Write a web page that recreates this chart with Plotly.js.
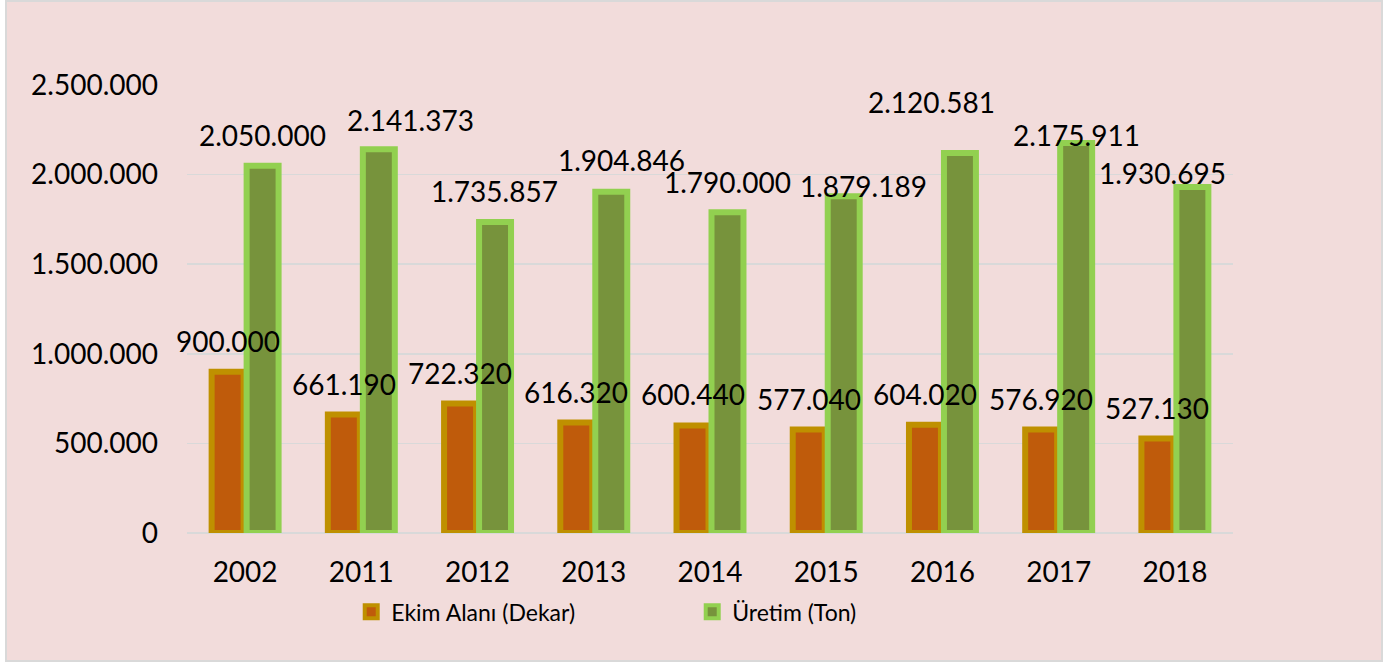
<!DOCTYPE html>
<html>
<head>
<meta charset="utf-8">
<script src="https://cdn.plot.ly/plotly-3.0.1.min.js"></script>
<style>
  html, body { margin: 0; padding: 0; background: #ffffff; }
  #frame { position: absolute; left: 5px; top: 0px; width: 1378px; height: 662px;
           border: 2px solid #D9D9D9; box-sizing: border-box; background: #F2DCDB; }
  #chart { width: 1374px; height: 658px; }
</style>
</head>
<body>
<div id="frame"><div id="chart"></div></div>
<script>
// ---- data ----
const categories = ['2002', '2011', '2012', '2013', '2014', '2015', '2016', '2017', '2018'];
const ekimAlani = [900000, 661190, 722320, 616320, 600440, 577040, 604020, 576920, 527130];
const uretim = [2050000, 2141373, 1735857, 1904846, 1790000, 1879189, 2120581, 2175911, 1930695];
const seriesNames = ['Ekim Alanı (Dekar)', 'Üretim (Ton)'];
const yTicks = [0, 500000, 1000000, 1500000, 2000000, 2500000];

// ---- label placement styling (pixel nudges, as in the original chart) ----
const ekimLabelDx = [0, 0, 0, 0, 0, 0, 0, 0, 0];
const ekimLabelDy = [31, 31, 31, 31, 31, 31, 31, 31, 31];
const uretimLabelDx = [0, 32, -1, 10, 0, 20, -28, 0, -30];
const uretimLabelDy = [31, 29.5, 31, 32, 30.5, 10, 51, 8.5, 14.5];

const FONT = 'Lato, "Open Sans", "Noto Sans", sans-serif';
const fmt = n => String(n).replace(/\B(?=(\d{3})+(?!\d))/g, '.');

const orangeFill = '#BF5B0B', orangeLine = '#BF9000';
const greenFill = '#77933C', greenLine = '#92D050';

const plotW = 1046;
const catPx = plotW / categories.length;
const bargap = 0.398;
const slotPx = (1 - bargap) / 2 * catPx;
const offA = -slotPx / 2, offB = slotPx / 2;

const traces = [
  { type: 'bar', name: seriesNames[0], x: categories, y: ekimAlani,
    marker: { color: orangeFill, line: { color: orangeLine, width: 6 } },
    showlegend: false, hoverinfo: 'skip' },
  { type: 'bar', name: seriesNames[1], x: categories, y: uretim,
    marker: { color: greenFill, line: { color: greenLine, width: 6 } },
    showlegend: false, hoverinfo: 'skip' },
  // legend-only swatches on a hidden helper axis pair
  { type: 'scatter', mode: 'markers', name: seriesNames[0], x: [0], y: [-10],
    xaxis: 'x2', yaxis: 'y2',
    marker: { symbol: 'square', size: 13, color: orangeFill, line: { color: orangeLine, width: 4 } },
    showlegend: true, hoverinfo: 'skip' },
  { type: 'scatter', mode: 'markers', name: seriesNames[1], x: [0], y: [-10],
    xaxis: 'x2', yaxis: 'y2',
    marker: { symbol: 'square', size: 13, color: greenFill, line: { color: greenLine, width: 4 } },
    showlegend: true, hoverinfo: 'skip' }
];

// category axis positions are serial indices of the categories
const annotations = [];
categories.forEach((c, i) => {
  annotations.push({ x: i, y: ekimAlani[i], xref: 'x', yref: 'y', text: fmt(ekimAlani[i]),
    showarrow: false, xanchor: 'center', yanchor: 'middle',
    xshift: offA + ekimLabelDx[i], yshift: ekimLabelDy[i],
    font: { family: FONT, size: 28, color: '#000000' } });
  annotations.push({ x: i, y: uretim[i], xref: 'x', yref: 'y', text: fmt(uretim[i]),
    showarrow: false, xanchor: 'center', yanchor: 'middle',
    xshift: offB + uretimLabelDx[i], yshift: uretimLabelDy[i],
    font: { family: FONT, size: 28, color: '#000000' } });
});

const layout = {
  width: 1374, height: 658,
  margin: { l: 180, r: 148, t: 83, b: 127, pad: 0 },
  paper_bgcolor: '#F2DCDB', plot_bgcolor: '#F2DCDB',
  separators: ',.',
  barmode: 'group', bargap: bargap, bargroupgap: 0.086,
  font: { family: FONT, size: 28, color: '#000000' },
  xaxis: { type: 'category', categoryorder: 'array', categoryarray: categories,
    range: [-0.5, categories.length - 0.5],
    showgrid: false, showline: false, zeroline: false, ticks: '',
    ticklabelstandoff: 20,
    tickfont: { family: FONT, size: 28, color: '#000000' } },
  yaxis: { range: [0, 2500000], tickvals: yTicks, ticktext: yTicks.map(fmt),
    showgrid: true, gridcolor: '#D9D9D9', gridwidth: 1.5,
    zeroline: true, zerolinecolor: '#D9D9D9', zerolinewidth: 1.5,
    showline: false, ticks: '', ticklabelstandoff: 28,
    tickfont: { family: FONT, size: 28, color: '#000000' } },
  xaxis2: { visible: false, range: [1, 2], overlaying: 'x', anchor: 'y2' },
  yaxis2: { visible: false, range: [1, 2], overlaying: 'y', anchor: 'x2' },
  showlegend: true,
  legend: { orientation: 'h', x: 0.157, xanchor: 'left', y: -0.176, yanchor: 'middle',
    entrywidth: 296, bgcolor: 'rgba(0,0,0,0)',
    font: { family: FONT, size: 23, color: '#000000' } },
  annotations: annotations,
  hovermode: false
};

Plotly.newPlot('chart', traces, layout, { staticPlot: true, displayModeBar: false });
</script>
</body>
</html>
